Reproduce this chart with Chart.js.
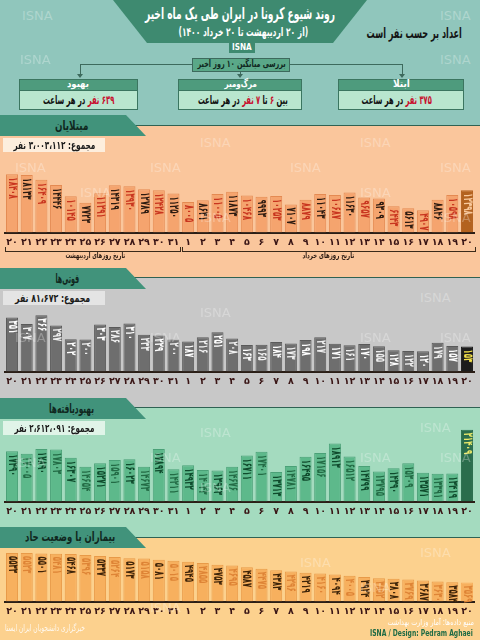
<!DOCTYPE html>
<html lang="fa">
<head>
<meta charset="utf-8">
<script src="https://cdn.jsdelivr.net/npm/chart.js@4.4.0/dist/chart.umd.min.js"></script>
<style>
body { margin: 0; }
#page { position: relative; width: 480px; height: 640px; overflow: hidden; background: #90c6bc; font-family: "DejaVu Sans", sans-serif; font-weight: bold; }
#page div, #page span { position: absolute; }
#page .t span { position: static; }
.t { white-space: nowrap; direction: rtl; line-height: 1; transform-origin: center center; }
.band { left: 0; width: 480px; border-top: 1.5px solid #2f6253; }
.tab { left: 0; width: 146px; height: 21px; background: #41937b; clip-path: polygon(0 0, 126px 0, 146px 100%, 0 100%); }
.sum { left: 3px; width: 102px; height: 14px; }
.boxhead { height: 10px; background: #4e9b7d; border: 1px solid #3b7560; }
.boxbody { height: 18px; background: #b9e6cf; border: 1px solid #3b7560; border-top: none; }
.red { color: #c8102e; }
.vline { width: 1px; background: #3d6a5d; }
.arrow { width: 0; height: 0; border-left: 3px solid transparent; border-right: 3px solid transparent; border-top: 4px solid #3d6a5d; }
canvas { position: absolute; left: 0; }
.wm { color: rgba(255,255,255,0.28); font-size: 13px; font-weight: normal; pointer-events: none; }
.brk { height: 4px; border: 1px solid #3a2a1a; border-top: none; }
</style>
</head>
<body>
<div id="page">
  <!-- header -->
  <div style="left:113px;top:0;width:254px;height:43px;background:#3e8a70;clip-path:polygon(0 0,100% 0,calc(100% - 34px) 100%,34px 100%);"></div>
  <div style="left:229px;top:43px;width:26px;height:10px;background:#3e8a70;"></div>

  <div style="left:80px;top:64px;width:322px;height:1px;background:#3d6a5d;"></div>
  <div class="vline" style="left:80px;top:64px;height:10px;"></div>
  <div class="vline" style="left:240px;top:64px;height:10px;"></div>
  <div class="vline" style="left:402px;top:64px;height:10px;"></div>
  <div class="arrow" style="left:77px;top:74px;"></div>
  <div class="arrow" style="left:237px;top:74px;"></div>
  <div class="arrow" style="left:399px;top:74px;"></div>
  <div style="left:192px;top:58px;width:96px;height:12px;background:#5aa888;border:1px solid #3d6a5d;"></div>

  <div class="boxhead" style="left:19px;top:79px;width:117px;"></div>
  <div class="boxbody" style="left:19px;top:91px;width:117px;"></div>
  <div class="boxhead" style="left:178px;top:79px;width:122px;"></div>
  <div class="boxbody" style="left:178px;top:91px;width:122px;"></div>
  <div class="boxhead" style="left:338px;top:79px;width:124px;"></div>
  <div class="boxbody" style="left:338px;top:91px;width:124px;"></div>

  <!-- panel bands -->
  <div class="band" style="top:125px;height:152px;background:#fac69c;"></div>
  <div class="band" style="top:277px;height:130px;background:#c8c8c8;"></div>
  <div class="band" style="top:407px;height:130px;background:#a4dbbf;"></div>
  <div class="band" style="top:537px;height:103px;background:#fcd18e;"></div>

  <div class="tab" style="top:115px;"></div>
  <div class="tab" style="top:268px;"></div>
  <div class="tab" style="top:398px;"></div>
  <div class="tab" style="top:527px;"></div>

  <div class="sum" style="top:138px;background:#fdeedd;"></div>
  <div class="sum" style="top:291px;background:#e4e4e4;"></div>
  <div class="sum" style="top:421px;background:#e0f4e8;"></div>

  <div class="brk" style="left:5px;top:247px;width:174px;"></div>
  <div class="brk" style="left:182px;top:247px;width:292px;"></div>

  <canvas id="c1" width="480" height="102" style="top:150px;"></canvas>
  <canvas id="c2" width="480" height="86" style="top:305px;"></canvas>
  <canvas id="c3" width="480" height="96" style="top:425px;"></canvas>
  <canvas id="c4" width="480" height="76" style="top:545px;"></canvas>

  <!-- texts: data-c = center x, center y, width; fitted by script -->
  <span class="t" data-c="240,14,190" style="font-size:16px;color:#fff;">روند شیوع کرونا در ایران طی یک ماه اخیر</span>
  <span class="t" data-c="243,32,130" style="font-size:12px;color:#fff;">(از ۲۰ اردیبهشت تا ۲۰ خرداد ۱۴۰۰)</span>
  <span class="t" data-c="242,48,20" style="font-size:8px;color:#fff;direction:ltr;">ISNA</span>
  <span class="t" data-c="414,33,95" style="font-size:14px;color:#141414;">اعداد بر حسب نفر است</span>
  <span class="t" data-c="241,64,88" style="font-size:10px;color:#10281f;">بررسی میانگین ۱۰ روز اخیر</span>

  <span class="t" data-c="78,84,22" style="font-size:10px;color:#fff;">بهبود</span>
  <span class="t" data-c="78,100,71" style="font-size:12px;color:#111;"><span class="red">۶۳۹ نفر</span> در هر ساعت</span>
  <span class="t" data-c="240,84,32" style="font-size:10px;color:#fff;">مرگ‌ومیر</span>
  <span class="t" data-c="243,100,90" style="font-size:12px;color:#111;">بین <span class="red">۶</span> تا <span class="red">۷ نفر</span> در هر ساعت</span>
  <span class="t" data-c="401,84,17" style="font-size:10px;color:#fff;">ابتلا</span>
  <span class="t" data-c="396,100,70" style="font-size:12px;color:#111;"><span class="red">۳۷۵ نفر</span> در هر ساعت</span>

  <span class="t" data-c="71,125,33" style="font-size:13px;color:#10281f;">مبتلایان</span>
  <span class="t" data-c="67,278,24" style="font-size:13px;color:#10281f;">فوتی‌ها</span>
  <span class="t" data-c="71,408,45" style="font-size:13px;color:#10281f;">بهبودیافته‌ها</span>
  <span class="t" data-c="70,536,90" style="font-size:13px;color:#10281f;">بیماران با وضعیت حاد</span>

  <span class="t" data-c="54,145,82" style="font-size:11px;color:#1b1b1b;">مجموع: ۳،۰۰۳،۱۱۲ نفر</span>
  <span class="t" data-c="52,298,75" style="font-size:11px;color:#1b1b1b;">مجموع: ۸۱،۶۷۲ نفر</span>
  <span class="t" data-c="54,428,80" style="font-size:11px;color:#1b1b1b;">مجموع: ۲،۶۱۲،۰۹۱ نفر</span>

  <span class="t" data-c="95,256,60" style="font-size:8px;color:#2a1a12;">تاریخ روزهای اردیبهشت</span>
  <span class="t" data-c="328,256,52" style="font-size:8px;color:#2a1a12;">تاریخ روزهای خرداد</span>

  <span class="t" data-c="430,623,86" style="font-size:8px;color:#fff;font-weight:normal;">منبع داده‌ها: آمار وزارت بهداشت</span>
  <span class="t" data-c="421,633,103" style="font-size:9px;color:#1f6b45;direction:ltr;">ISNA / Design: Pedram Aghaei</span>
  <span class="t" data-c="45,628,80" style="font-size:9px;color:rgba(255,255,255,0.85);font-weight:normal;">خبرگزاری دانشجویان ایران ایسنا</span>
</div>

<script>
// روزها: ۲۰ تا ۳۱ اردیبهشت، ۱ تا ۲۰ خرداد
const days = ['۲۰','۲۱','۲۲','۲۳','۲۴','۲۵','۲۶','۲۷','۲۸','۲۹','۳۰','۳۱',
  '۱','۲','۳','۴','۵','۶','۷','۸','۹','۱۰','۱۱','۱۲','۱۳','۱۴','۱۵','۱۶','۱۷','۱۸','۱۹','۲۰'];

const infected = [18408, 18133, 16409, 14446, 10145, 7723, 11291, 14319, 13930, 12789, 12428, 11250,
  8005, 8631, 11005, 11873, 10468, 9993, 10253, 7107, 8879, 11043, 10687, 11630, 9657, 9309, 6443, 5613, 4907, 8846, 10598, 12398];

const deaths = [351, 307, 366, 297, 202, 200, 303, 286, 310, 233, 229, 200,
  187, 216, 251, 208, 163, 165, 184, 173, 198, 217, 171, 161, 170, 155, 128, 122, 120, 179, 157, 153];

const recovered = [17490, 17005, 17890, 17803, 16307, 14654, 15271, 15901, 16023, 14673, 17894, 14211,
  14932, 14043, 13963, 14676, 16711, 17401, 13713, 14781, 16495, 17156, 18913, 16512, 14799, 13795, 14390, 15309, 13571, 13391, 13419, 21409];

const severe = [5533, 5523, 5501, 5481, 5468, 5396, 5337, 5264, 5173, 5158, 5081, 5015,
  4945, 4855, 4753, 4695, 4587, 4475, 4383, 4296, 4219, 4160, 4094, 4005, 3924, 3852, 3808, 3769, 3687, 3630, 3584, 3569];

const faDigits = '۰۱۲۳۴۵۶۷۸۹';
function toFa(n) {
    return String(n).replace(/\d/g, d => faDigits[d]);
}

// متن‌ها را به اندازه‌ی عرض مورد نظر فشرده می‌کنیم
document.querySelectorAll('#page > .t').forEach(el => {
    const [cx, cy, w] = el.dataset.c.split(',').map(Number);
    const ow = el.offsetWidth, oh = el.offsetHeight;
    el.style.left = (cx - ow / 2) + 'px';
    el.style.top = (cy - oh / 2) + 'px';
    el.style.transform = 'scaleX(' + (w / ow) + ')';
});

// عدد هر ستون، عمودی داخل ستون
const barText = {
    id: 'barText',
    afterDatasetsDraw(chart, args, opts) {
        const ctx = chart.ctx;
        const meta = chart.getDatasetMeta(0);
        const vals = chart.data.datasets[0].data;
        meta.data.forEach((bar, i) => {
            const s = toFa(vals[i]);
            ctx.save();
            ctx.font = 'bold 13px "DejaVu Sans"';
            const len = ctx.measureText(s).width;
            ctx.translate(bar.x, bar.y + 3);
            ctx.rotate(Math.PI / 2);
            ctx.scale(Math.min(1, s.length * opts.digit / len), 1);
            ctx.fillStyle = opts.colors[i];
            ctx.textAlign = 'left';
            ctx.textBaseline = 'middle';
            ctx.fillText(s, 0, 0);
            ctx.restore();
        });
    }
};

function pick(n, normal, last) {
    return days.map((d, i) => i === n - 1 ? last : normal(i));
}

function drawPanel(id, values, cfg) {
    const n = values.length;
    new Chart(document.getElementById(id), {
        type: 'bar',
        data: {
            labels: days,
            datasets: [{
                data: values,
                base: cfg.min,
                backgroundColor: pick(n, () => cfg.bar, cfg.lastBar),
                borderColor: pick(n, () => cfg.edge, cfg.lastBar),
                borderWidth: 1,
                barPercentage: 0.82,
                categoryPercentage: 1
            }]
        },
        options: {
            responsive: false,
            animation: false,
            devicePixelRatio: 1,
            layout: { padding: { left: 4.7, right: 5.7, top: 0, bottom: 0 } },
            plugins: {
                legend: { display: false },
                tooltip: { enabled: false },
                barText: { digit: 4.3, colors: pick(n, i => i % 2 === 0 ? cfg.text[0] : cfg.text[1], cfg.lastText) }
            },
            scales: {
                x: {
                    grid: { display: false, drawTicks: false },
                    border: { color: '#2a1e16', width: 2 },
                    ticks: {
                        color: '#3a1616',
                        font: { family: 'DejaVu Sans', weight: 'bold', size: 9.5 },
                        padding: 4,
                        maxRotation: 0,
                        autoSkip: false
                    }
                },
                y: { display: false, min: cfg.min, max: cfg.max }
            }
        },
        plugins: [barText]
    });
}

drawPanel('c1', infected, { min: -3500, max: 27571, bar: '#f5a46e', edge: '#e48a52', lastBar: '#b3621f', text: ['#c8351f', '#2b1a10'], lastText: '#f8c89c' });
drawPanel('c2', deaths, { min: -19, max: 437, bar: '#6e6e6e', edge: '#5a5a5a', lastBar: '#1c1c1c', text: ['#ffffff', '#f0f0f0'], lastText: '#f2e04a' });
drawPanel('c3', recovered, { min: 8300, max: 22266, bar: '#5db98b', edge: '#4aa177', lastBar: '#2a6d4c', text: ['#0f4a2c', '#236b45'], lastText: '#ecea6a' });
drawPanel('c4', severe, { min: 2286, max: 6065, bar: '#f7b05e', edge: '#e89a48', lastBar: '#f7b05e', text: ['#3d2308', '#de8436'], lastText: '#de8436' });

// واترمارک ISNA
const page = document.getElementById('page');
const wmSpots = [[22, 8], [440, 8], [20, 52], [440, 52], [200, 135], [360, 135], [15, 160], [150, 160], [290, 160], [440, 160],
    [80, 185], [360, 185], [200, 210], [440, 210], [420, 290], [200, 305], [15, 330], [150, 330], [360, 330], [440, 330],
    [420, 420], [200, 425], [15, 455], [150, 450], [360, 450], [440, 450], [200, 480],
    [420, 545], [300, 555], [150, 600], [360, 580]];
wmSpots.forEach(p => {
    const s = document.createElement('span');
    s.className = 'wm';
    s.textContent = 'ISNA';
    s.style.left = p[0] + 'px';
    s.style.top = p[1] + 'px';
    page.appendChild(s);
});
</script>
</body>
</html>
